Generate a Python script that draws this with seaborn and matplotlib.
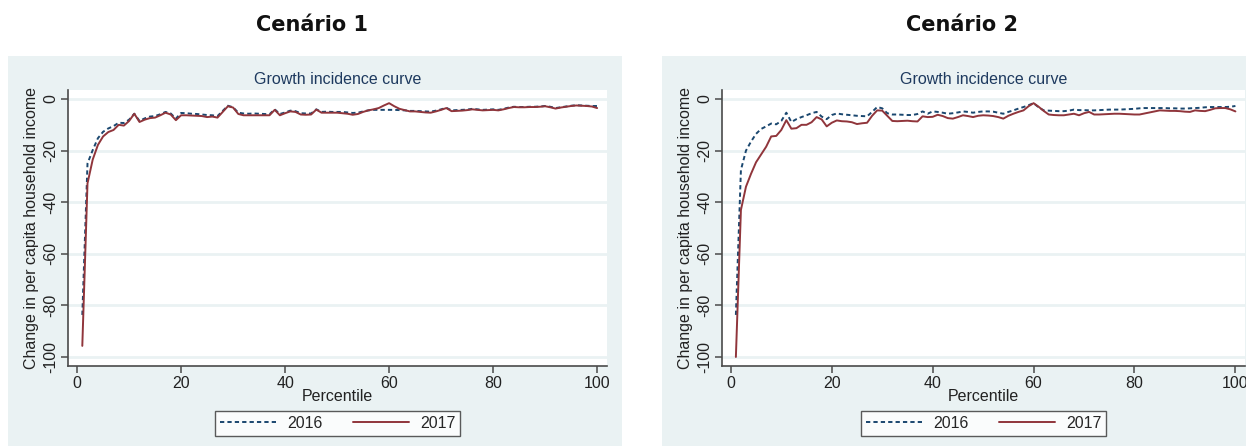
import numpy as np
import pandas as pd
import seaborn as sns
import matplotlib
matplotlib.use("Agg")
import matplotlib.pyplot as plt
from matplotlib.lines import Line2D
from matplotlib.patches import Rectangle

# ---------------- data ----------------
percentile = list(range(1, 101))

c1_2016 = [-83.7, -25.0, -19.8, -15.2, -12.7, -11.4, -10.5, -9.2, -9.3, -8.0,
           -5.7, -8.5, -7.5, -6.8, -6.6, -5.9, -5.0, -5.6, -7.6, -5.4,
           -5.5, -5.7, -5.8, -6.0, -6.2, -6.3, -6.6, -4.6, -2.6, -3.2,
           -5.3, -5.6, -5.7, -5.6, -5.7, -5.8, -5.9, -4.0, -5.8, -5.2,
           -4.5, -4.7, -5.5, -5.6, -5.6, -4.0, -5.0, -4.9, -5.0, -5.0,
           -5.0, -5.2, -5.4, -5.3, -4.8, -4.4, -4.2, -4.2, -4.2, -4.2,
           -4.2, -4.3, -4.4, -4.6, -4.6, -4.7, -4.8, -4.9, -4.5, -4.0,
           -3.4, -4.4, -4.3, -4.2, -4.1, -3.8, -4.0, -4.2, -4.1, -4.0,
           -4.2, -3.8, -3.3, -3.0, -3.1, -3.1, -3.0, -3.0, -2.9, -2.7,
           -3.0, -3.5, -3.2, -2.9, -2.6, -2.4, -2.5, -2.6, -2.7, -2.7]

c1_2017 = [-95.7, -32.7, -23.5, -17.8, -14.5, -12.8, -12.0, -10.0, -10.3, -8.5,
           -5.7, -8.9, -8.0, -7.4, -7.2, -6.3, -5.3, -6.0, -8.2, -6.3,
           -6.3, -6.4, -6.5, -6.6, -7.0, -6.8, -7.2, -5.0, -2.8, -3.3,
           -5.8, -6.3, -6.3, -6.3, -6.3, -6.3, -6.3, -4.2, -6.3, -5.5,
           -4.8, -5.0, -6.0, -6.1, -6.0, -4.1, -5.3, -5.3, -5.3, -5.3,
           -5.5, -5.7, -6.1, -5.8, -5.0, -4.4, -4.0, -3.5, -2.5, -1.6,
           -2.8, -3.8, -4.3, -4.8, -4.8, -5.0, -5.2, -5.3, -4.8, -4.2,
           -3.5, -4.7, -4.6, -4.5, -4.3, -4.0, -4.2, -4.4, -4.3, -4.2,
           -4.4, -4.0, -3.5, -3.1, -3.2, -3.2, -3.1, -3.1, -3.0, -2.8,
           -3.2, -3.7, -3.3, -3.0, -2.7, -2.5, -2.6, -2.7, -2.9, -3.5]

c2_2016 = [-83.7, -27.5, -20.0, -16.5, -13.5, -11.6, -10.6, -9.5, -9.8, -8.5,
           -5.3, -8.9, -7.8, -7.0, -6.3, -5.5, -5.0, -6.8, -7.8, -6.2,
           -5.6, -5.9, -6.1, -6.3, -6.5, -6.6, -6.7, -5.0, -3.1, -3.6,
           -5.5, -6.0, -6.0, -6.1, -6.2, -6.2, -5.8, -4.8, -5.7, -4.8,
           -5.0, -5.3, -5.7, -5.5, -5.2, -4.8, -5.0, -5.3, -5.0, -4.8,
           -4.8, -4.9, -5.3, -5.7, -5.0, -4.4, -3.7, -3.1, -2.4, -1.6,
           -3.2, -4.4, -4.5, -4.6, -4.7, -4.7, -4.5, -4.1, -4.3, -4.3,
           -4.4, -4.4, -4.3, -4.2, -4.1, -4.1, -4.1, -4.0, -3.9, -3.8,
           -3.6, -3.5, -3.5, -3.5, -3.5, -3.5, -3.6, -3.6, -3.7, -3.7,
           -3.6, -3.5, -3.4, -3.2, -3.1, -3.1, -3.1, -3.1, -3.0, -2.7]

c2_2017 = [-100.0, -43.0, -34.0, -29.0, -24.5, -21.5, -18.5, -14.5, -14.3, -12.0,
           -8.2, -11.5, -11.3, -10.0, -10.0, -9.0, -7.0, -7.9, -10.6, -9.2,
           -8.3, -8.6, -8.7, -9.0, -9.7, -9.4, -9.2, -6.5, -4.4, -4.5,
           -6.5, -8.5, -8.6, -8.5, -8.4, -8.6, -8.7, -6.7, -7.0, -6.9,
           -6.1, -6.6, -7.4, -7.6, -7.0, -6.3, -6.6, -7.0, -6.5, -6.3,
           -6.4, -6.6, -7.0, -7.6, -6.5, -5.7, -5.0, -4.4, -2.8, -1.6,
           -3.0, -4.6, -6.0, -6.2, -6.3, -6.3, -6.0, -5.7, -6.3, -5.5,
           -5.0, -6.0, -6.0, -5.9, -5.8, -5.7, -5.7, -5.8, -5.9, -6.0,
           -6.0, -5.6, -5.2, -4.8, -4.4, -4.5, -4.6, -4.6, -4.7, -4.9,
           -5.0, -4.4, -4.6, -4.7, -4.2, -3.6, -3.5, -3.5, -4.0, -4.8]

panel_titles = ["Cenário 1", "Cenário 2"]
years = ["2016", "2017"]
y_ticks = [0, -20, -40, -60, -80, -100]
x_ticks = [0, 20, 40, 60, 80, 100]

# ---------------- style ----------------
sns.set_theme(style="white")
plt.rcParams["font.family"] = ["Liberation Sans", "DejaVu Sans"]

BG = "#eaf2f3"
NAVY = "#1a476f"
MAROON = "#90353b"
AXC = "#4a4a4a"

W, H = 1246, 446
fig = plt.figure(figsize=(W / 100, H / 100), dpi=100)
fig.patch.set_facecolor("white")

def fx(px):
    return px / W

def fy(py):
    return 1 - py / H

# panel backgrounds
for left, right in [(8, 622), (662, 1246)]:
    fig.add_artist(Rectangle((fx(left), 0), fx(right - left), fy(56),
                             transform=fig.transFigure, facecolor=BG,
                             edgecolor="none", zorder=-10))

axes_px = [(68, 607), (722, 1245)]
top_px, bot_px = 90, 366
data = [(c1_2016, c1_2017), (c2_2016, c2_2017)]
header_x = [312, 962]

for i, ((l, r), (d16, d17)) in enumerate(zip(axes_px, data)):
    ax = fig.add_axes([fx(l), fy(bot_px), fx(r - l), (bot_px - top_px) / H])
    ax.set_zorder(1)
    ax.set_facecolor("white")
    df = pd.DataFrame({
        "Percentile": percentile * 2,
        "value": d16 + d17,
        "year": [years[0]] * 100 + [years[1]] * 100,
    })
    sns.lineplot(data=df, x="Percentile", y="value", hue="year", style="year",
                 palette={"2016": NAVY, "2017": MAROON},
                 dashes={"2016": (2.2, 1.6), "2017": ""},
                 linewidth=1.4, ax=ax, legend=False, zorder=3)
    ax.set_xlim(-1.75, 101.9)
    ax.set_ylim(-103.5, 3.5)
    ax.set_yticks(y_ticks)
    ax.set_xticks(x_ticks)
    ax.set_yticklabels([str(v) for v in y_ticks], rotation=90, va="center")
    ax.grid(axis="y", color=BG, linewidth=2.0, zorder=1)
    ax.grid(axis="x", visible=False)
    for s in ["top", "right"]:
        ax.spines[s].set_visible(False)
    for s in ["left", "bottom"]:
        ax.spines[s].set_color(AXC)
        ax.spines[s].set_linewidth(1.2)
    ax.tick_params(axis="both", direction="out", length=5, width=1.1,
                   color=AXC, labelsize=11.5, labelcolor="#222222", pad=2,
                   left=True, bottom=True)
    ax.set_xlabel("Percentile", fontsize=11.5, color="#222222", labelpad=-1)
    ax.set_ylabel("Change in per capita household income", fontsize=11.5,
                  color="#222222", labelpad=3)
    ax.set_title("Growth incidence curve", fontsize=11.5, color="#1e3a5f",
                 pad=4)
    handles = [Line2D([], [], color=NAVY, lw=1.4, dashes=(2.2, 1.6)),
               Line2D([], [], color=MAROON, lw=1.4)]
    leg = ax.legend(handles, years, loc="upper center",
                    bbox_to_anchor=(0.5, (bot_px - 411) / (bot_px - top_px)),
                    borderaxespad=0.0,
                    ncol=2, frameon=True, fancybox=False, fontsize=11.5,
                    handlelength=3.5, columnspacing=1.9, handletextpad=0.7,
                    borderpad=0.3)
    leg.get_frame().set_edgecolor("#333333")
    leg.get_frame().set_linewidth(1.0)
    leg.get_frame().set_facecolor("white")
    fig.text(fx(header_x[i]), fy(25), panel_titles[i], ha="center",
             va="center", fontsize=15, fontweight="bold", color="#111111",
             family=["DejaVu Sans"])

fig.savefig("out.png", dpi=100, facecolor="white")
